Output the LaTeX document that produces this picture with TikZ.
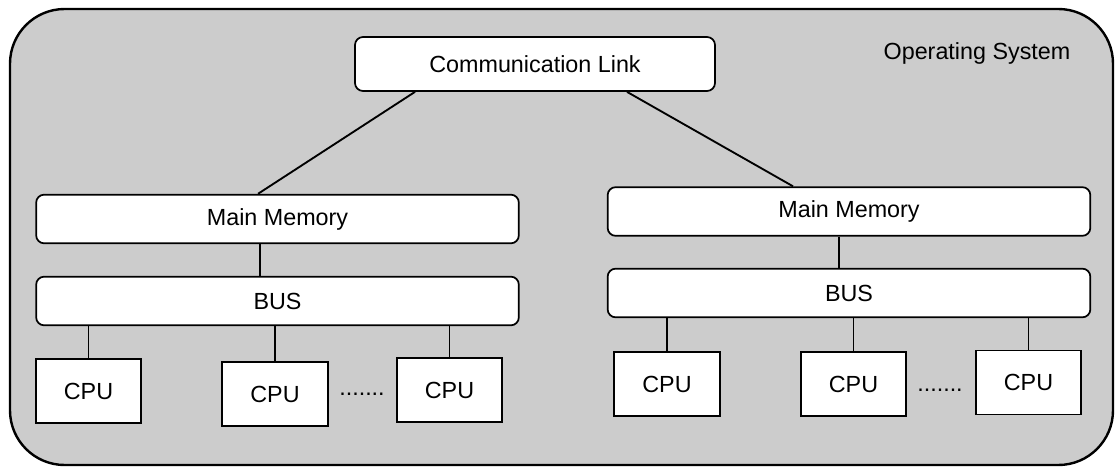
\documentclass[tikz,border=0pt]{standalone}
\usepackage{fontspec}
\setmainfont{Liberation Sans}
\definecolor{osgrey}{HTML}{CCCCCC}
\tikzset{
  unitbox/.style={draw, line width=1.3pt, rounded corners=6pt, fill=white, inner sep=0pt, minimum width=362pt, minimum height=36.5pt},
  cpubox/.style={draw, line width=1.3pt, fill=white, inner sep=0pt, minimum width=79pt, minimum height=48pt},
  wire/.style={line width=1.4pt}
}
\begin{document}
\begin{tikzpicture}[x=0.75pt,y=0.75pt,yscale=-1,xscale=1,font=\fontsize{17.5}{20}\selectfont]
        \useasboundingbox (0,0) rectangle (1116,468);

        %Shape: Operating System frame
        \draw [line width=1.8pt, fill=osgrey, rounded corners=41pt] (10,9) rectangle (1113,465);
        % Text Node
        \node (os) at (977,53) {Operating System};

        %Shape: Communication Link
        \node [unitbox, minimum width=270pt, minimum height=40.5pt] (link) at (535,64) {Communication Link};

        %Shape: left unit
        \node [unitbox] (mmL) at (277.5,219) {Main Memory};
        \node [unitbox] (busL) at (277.5,301) {BUS};
        \node [cpubox] (cpuL1) at (88.5,391) {CPU};
        \node [cpubox] (cpuL2) at (275,394) {CPU};
        \node [cpubox] (cpuL3) at (449.5,390) {CPU};
        \node [anchor=base, inner sep=0pt] (dotsL) at (362,395) {.......};

        %Shape: right unit
        \node [unitbox] (mmR) at (849,211.5) {Main Memory};
        \node [unitbox] (busR) at (849,293) {BUS};
        \node [cpubox] (cpuR1) at (667,384) {CPU};
        \node [cpubox] (cpuR2) at (853.5,384) {CPU};
        \node [cpubox] (cpuR3) at (1028.5,382.5) {CPU};
        \node [anchor=base, inner sep=0pt] (dotsR) at (940,391) {.......};

        %Straight Lines
        \draw [wire] ([xshift=-90pt]link.south) -- ([xshift=-14.6pt]mmL.north);
        \draw [wire] ([xshift=69pt]link.south) -- ([xshift=-42pt]mmR.north);
        \draw [wire] ([xshift=-13pt]mmL.south) -- ([xshift=-13pt]busL.north);
        \draw [wire] ([xshift=-7.5pt]mmR.south) -- ([xshift=-7.5pt]busR.north);
        \foreach \c in {cpuL1,cpuL2,cpuL3} {
          \draw [wire] (\c.north) -- (\c.north |- busL.south);
        }
        \foreach \c in {cpuR1,cpuR2,cpuR3} {
          \draw [wire] (\c.north) -- (\c.north |- busR.south);
        }
    \end{tikzpicture}
\end{document}
